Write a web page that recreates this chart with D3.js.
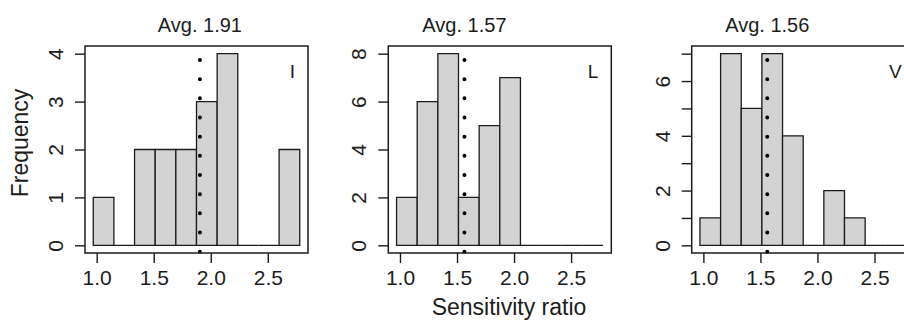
<!DOCTYPE html>
<html>
<head>
<meta charset="utf-8">
<script src="https://cdn.jsdelivr.net/npm/d3@7"></script>
<style>
  html, body { margin: 0; padding: 0; background: #fff; }
  svg { display: block; font-family: "Liberation Sans", Arial, sans-serif; }
</style>
</head>
<body>
<div id="chart"></div>
<script>
// histogram bins shared by the three panels
const binEdges = [0.97, 1.151, 1.332, 1.513, 1.694, 1.875, 2.056, 2.237, 2.418, 2.599, 2.78];
const countsI = [1, 0, 2, 2, 2, 3, 4, 0, 0, 2];
const countsL = [2, 6, 8, 2, 5, 7, 0, 0, 0, 0];
const countsV = [1, 7, 5, 7, 4, 0, 2, 1, 0, 0];

const panelNames = ['I', 'L', 'V'];
const avgValues = [1.905, 1.565, 1.56];
const avgLabels = ['Avg. 1.91', 'Avg. 1.57', 'Avg. 1.56'];
const yMax = [4, 8, 7];

const xTicks = [1.0, 1.5, 2.0, 2.5];
const yTicksI = [0, 1, 2, 3, 4];
const yTicksL = [0, 2, 4, 6, 8];
const yTicksV = [0, 1, 2, 3, 4, 5, 6, 7];
const yLabelsV = [0, 2, 4, 6];

const panels = [
  { name: panelNames[0], counts: countsI, avg: avgValues[0], title: avgLabels[0], ymax: yMax[0], yTicks: yTicksI, yLabels: yTicksI },
  { name: panelNames[1], counts: countsL, avg: avgValues[1], title: avgLabels[1], ymax: yMax[1], yTicks: yTicksL, yLabels: yTicksL },
  { name: panelNames[2], counts: countsV, avg: avgValues[2], title: avgLabels[2], ymax: yMax[2], yTicks: yTicksV, yLabels: yLabelsV },
];

const W = 904, H = 320;
const boxLefts = [85, 388.3, 691.7];
const boxW = 223;
const plotTop = 46, plotBottom = 253;
const ink = '#1c1c1c';
const font = '"Liberation Sans", Arial, sans-serif';

const svg = d3.select('#chart').append('svg')
  .attr('width', W)
  .attr('height', H);

// R style 4% padding on both axes
const xLo = binEdges[0], xHi = binEdges[binEdges.length - 1];
const xPad = (xHi - xLo) * 0.04;

panels.forEach((p, i) => {
  const left = boxLefts[i];
  const g = svg.append('g');

  const x = d3.scaleLinear().domain([xLo - xPad, xHi + xPad]).range([left, left + boxW]);
  const y = d3.scaleLinear().domain([-0.04 * p.ymax, 1.04 * p.ymax]).range([plotBottom, plotTop]);

  // bars as closed paths so empty bins still show their base line
  g.selectAll('path.bar')
    .data(p.counts)
    .enter()
    .append('path')
    .attr('class', 'bar')
    .attr('d', (d, k) => {
      const x0 = x(binEdges[k]), x1 = x(binEdges[k + 1]);
      return `M${x0},${y(0)}H${x1}V${y(d)}H${x0}Z`;
    })
    .attr('fill', '#d3d3d3')
    .attr('stroke', ink)
    .attr('stroke-width', 1.3);

  // dotted mean line
  g.append('path')
    .attr('d', `M${x(p.avg)},${plotBottom - 1.3}L${x(p.avg)},${plotTop}`)
    .attr('stroke', '#000')
    .attr('stroke-width', 4)
    .attr('stroke-linecap', 'round')
    .attr('stroke-dasharray', '0 19.17')
    .attr('fill', 'none');

  // box
  g.append('rect')
    .attr('x', left)
    .attr('y', plotTop)
    .attr('width', boxW)
    .attr('height', plotBottom - plotTop)
    .attr('fill', 'none')
    .attr('stroke', ink)
    .attr('stroke-width', 1.5);

  // x axis
  const xa = g.append('g')
    .attr('transform', `translate(0,${plotBottom})`)
    .call(d3.axisBottom(x).tickValues(xTicks).tickFormat(d3.format('.1f')).tickSize(10).tickSizeOuter(0))
    .attr('font-size', 21)
    .attr('font-family', font);
  xa.select('.domain').remove();
  xa.selectAll('line').attr('stroke', ink).attr('stroke-width', 1.4);
  xa.selectAll('text')
    .attr('y', 32).attr('dy', 0)
    .attr('fill', ink);

  // y axis
  const ya = g.append('g')
    .attr('transform', `translate(${left},0)`)
    .call(d3.axisLeft(y).tickValues(p.yTicks).tickFormat(d => p.yLabels.includes(d) ? String(d) : '').tickSize(10).tickSizeOuter(0))
    .attr('font-size', 21)
    .attr('font-family', font);
  ya.select('.domain').remove();
  ya.selectAll('line').attr('stroke', ink).attr('stroke-width', 1.4);
  ya.selectAll('text')
    .attr('x', 0).attr('dy', 0)
    .attr('transform', 'translate(-22,0) rotate(-90)')
    .attr('text-anchor', 'middle')
    .attr('fill', ink);

  // title centred on the mean
  g.append('text')
    .attr('x', x(p.avg))
    .attr('y', 32)
    .attr('text-anchor', 'middle')
    .attr('fill', ink)
    .attr('font-size', 20)
    .text(p.title);

  // panel letter
  g.append('text')
    .attr('x', left + boxW - 13)
    .attr('y', 78)
    .attr('text-anchor', 'end')
    .attr('fill', ink)
    .attr('font-size', 19)
    .text(p.name);
});

svg.append('text')
  .attr('transform', 'translate(28,143) rotate(-90)')
  .attr('text-anchor', 'middle')
  .attr('fill', ink)
  .attr('font-size', 23)
  .text('Frequency');

svg.append('text')
  .attr('x', 509)
  .attr('y', 315)
  .attr('text-anchor', 'middle')
  .attr('fill', ink)
  .attr('font-size', 23)
  .text('Sensitivity ratio');
</script>
</body>
</html>
